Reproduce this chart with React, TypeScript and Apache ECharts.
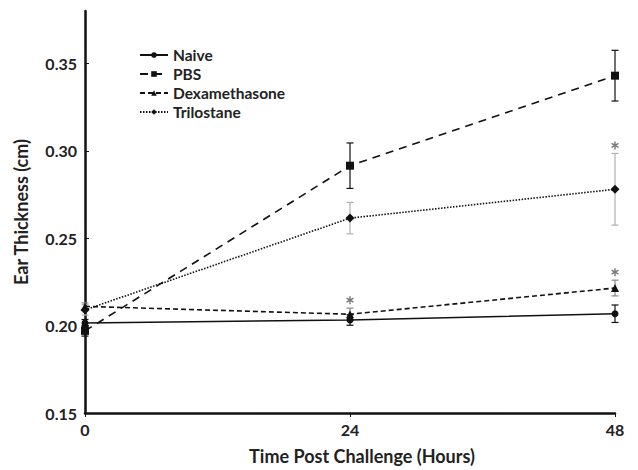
import React, { useEffect, useRef } from "react";
import * as echarts from "echarts";

const hours = [0, 24, 48];
const seriesNames = ["Naive", "PBS", "Dexamethasone", "Trilostane"];
const naive = [0.2015, 0.2032, 0.2068];
const naiveErr = [0.002, 0.003, 0.005];
const pbs = [0.197, 0.2915, 0.343];
const pbsErr = [0.003, 0.013, 0.0145];
const dexa = [0.211, 0.2065, 0.2215];
const dexaErr = [0.002, 0.0035, 0.0045];
const trilo = [0.209, 0.2615, 0.278];
const triloErr = [0.003, 0.009, 0.0205];
const yTicks = [0.15, 0.2, 0.25, 0.3, 0.35];
// asterisks: [hour index, series index]
const asterisks = [
  [1, 2],
  [2, 2],
  [2, 3],
];

const FONT = "Lato, 'Open Sans', sans-serif";

export default function App() {
  const ref = useRef<HTMLDivElement>(null);
  useEffect(() => {
    if (!ref.current) return;
    const chart = echarts.init(ref.current, undefined, { renderer: "svg" });
    const means = [naive, pbs, dexa, trilo];
    const errs = [naiveErr, pbsErr, dexaErr, triloErr];
    const symbols = ["circle", "rect", "triangle", "diamond"];
    const sizes = [7, 8, 8, 9];
    const dashes: any[] = ["solid", [8, 6], [5, 3], [1.5, 1.5]];
    const errColors = ["#111", "#111", "#888", "#b0b0b0"];

    const lineSeries = seriesNames.map((name, si) => ({
      name,
      type: "line",
      data: hours.map((h, i) => [h, means[si][i]]),
      symbol: symbols[si],
      symbolSize: sizes[si],
      itemStyle: { color: "#111" },
      lineStyle: { color: "#111", width: si === 0 ? 1.5 : 1.6, type: dashes[si] },
      z: 3,
    }));

    const errSeries = seriesNames.map((name, si) => ({
      name: name + "-err",
      type: "custom",
      itemStyle: { color: errColors[si] },
      data: hours.map((h, i) => [h, means[si][i] - errs[si][i], means[si][i] + errs[si][i]]),
      renderItem: (params: any, api: any) => {
        const x = api.value(0);
        const lo = api.coord([x, api.value(1)]);
        const hi = api.coord([x, api.value(2)]);
        const cw = 3.5;
        const st = { stroke: errColors[si], lineWidth: 1.2 };
        return {
          type: "group",
          children: [
            { type: "line", shape: { x1: lo[0], y1: lo[1], x2: hi[0], y2: hi[1] }, style: st },
            { type: "line", shape: { x1: lo[0] - cw, y1: lo[1], x2: lo[0] + cw, y2: lo[1] }, style: st },
            { type: "line", shape: { x1: hi[0] - cw, y1: hi[1], x2: hi[0] + cw, y2: hi[1] }, style: st },
          ],
        };
      },
      silent: true,
      z: 2,
    }));

    const starSeries = {
      name: "asterisks",
      type: "custom",
      itemStyle: { color: "#777" },
      data: asterisks.map(([hi, si]) => [hours[hi], means[si][hi] + errs[si][hi]]),
      renderItem: (params: any, api: any) => {
        const p = api.coord([api.value(0), api.value(1)]);
        const cx = p[0];
        const cy = p[1] - 8;
        const r = 4;
        const st = { stroke: "#777", lineWidth: 1.4 };
        const children = [90, 30, -30].map((deg) => {
          const a = (deg * Math.PI) / 180;
          const dx = r * Math.cos(a);
          const dy = r * Math.sin(a);
          return { type: "line", shape: { x1: cx - dx, y1: cy - dy, x2: cx + dx, y2: cy + dy }, style: st };
        });
        return { type: "group", children };
      },
      silent: true,
      z: 4,
    };

    chart.setOption({
      animation: false,
      backgroundColor: "#fff",
      grid: { left: 85, right: 23, top: 11, bottom: 54 },
      legend: {
        data: seriesNames,
        orient: "vertical",
        left: 139,
        top: 47,
        itemWidth: 28,
        itemHeight: 7,
        itemGap: 3,
        padding: 0,
        textStyle: { fontFamily: FONT, fontWeight: "bold", fontSize: 15.5, lineHeight: 15, color: "#222" },
      },
      xAxis: {
        type: "value",
        min: 0,
        max: 48,
        interval: 24,
        name: "Time Post Challenge (Hours)",
        nameLocation: "middle",
        nameGap: 34,
        nameTextStyle: { fontFamily: FONT, fontWeight: "bold", fontSize: 18, color: "#222", padding: [0, 0, 0, 24] },
        axisLine: { lineStyle: { color: "#111", width: 2.5 } },
        axisTick: { show: true, inside: false, length: 4, lineStyle: { color: "#111" } },
        axisLabel: { fontFamily: FONT, fontWeight: "bold", fontSize: 16, color: "#222", margin: 8 },
        splitLine: { show: false },
      },
      yAxis: {
        type: "value",
        min: 0.15,
        max: 0.38,
        name: "Ear Thickness (cm)",
        nameLocation: "middle",
        nameGap: 55,
        nameRotate: 90,
        nameTextStyle: { fontFamily: FONT, fontWeight: "bold", fontSize: 18, color: "#222" },
        axisLine: { lineStyle: { color: "#111", width: 2.5 } },
        axisTick: { show: true, inside: true, length: 4, customValues: yTicks, lineStyle: { color: "#111" } },
        axisLabel: {
          fontFamily: FONT,
          fontWeight: "bold",
          fontSize: 16,
          color: "#222",
          margin: 8,
          customValues: yTicks,
          formatter: (v: number) => v.toFixed(2),
        },
        splitLine: { show: false },
      },
      series: [...errSeries, ...lineSeries, starSeries],
    });
    return () => chart.dispose();
  }, []);
  return <div ref={ref} style={{ position: "absolute", left: 0, top: 0, width: 638, height: 470 }} />;
}
